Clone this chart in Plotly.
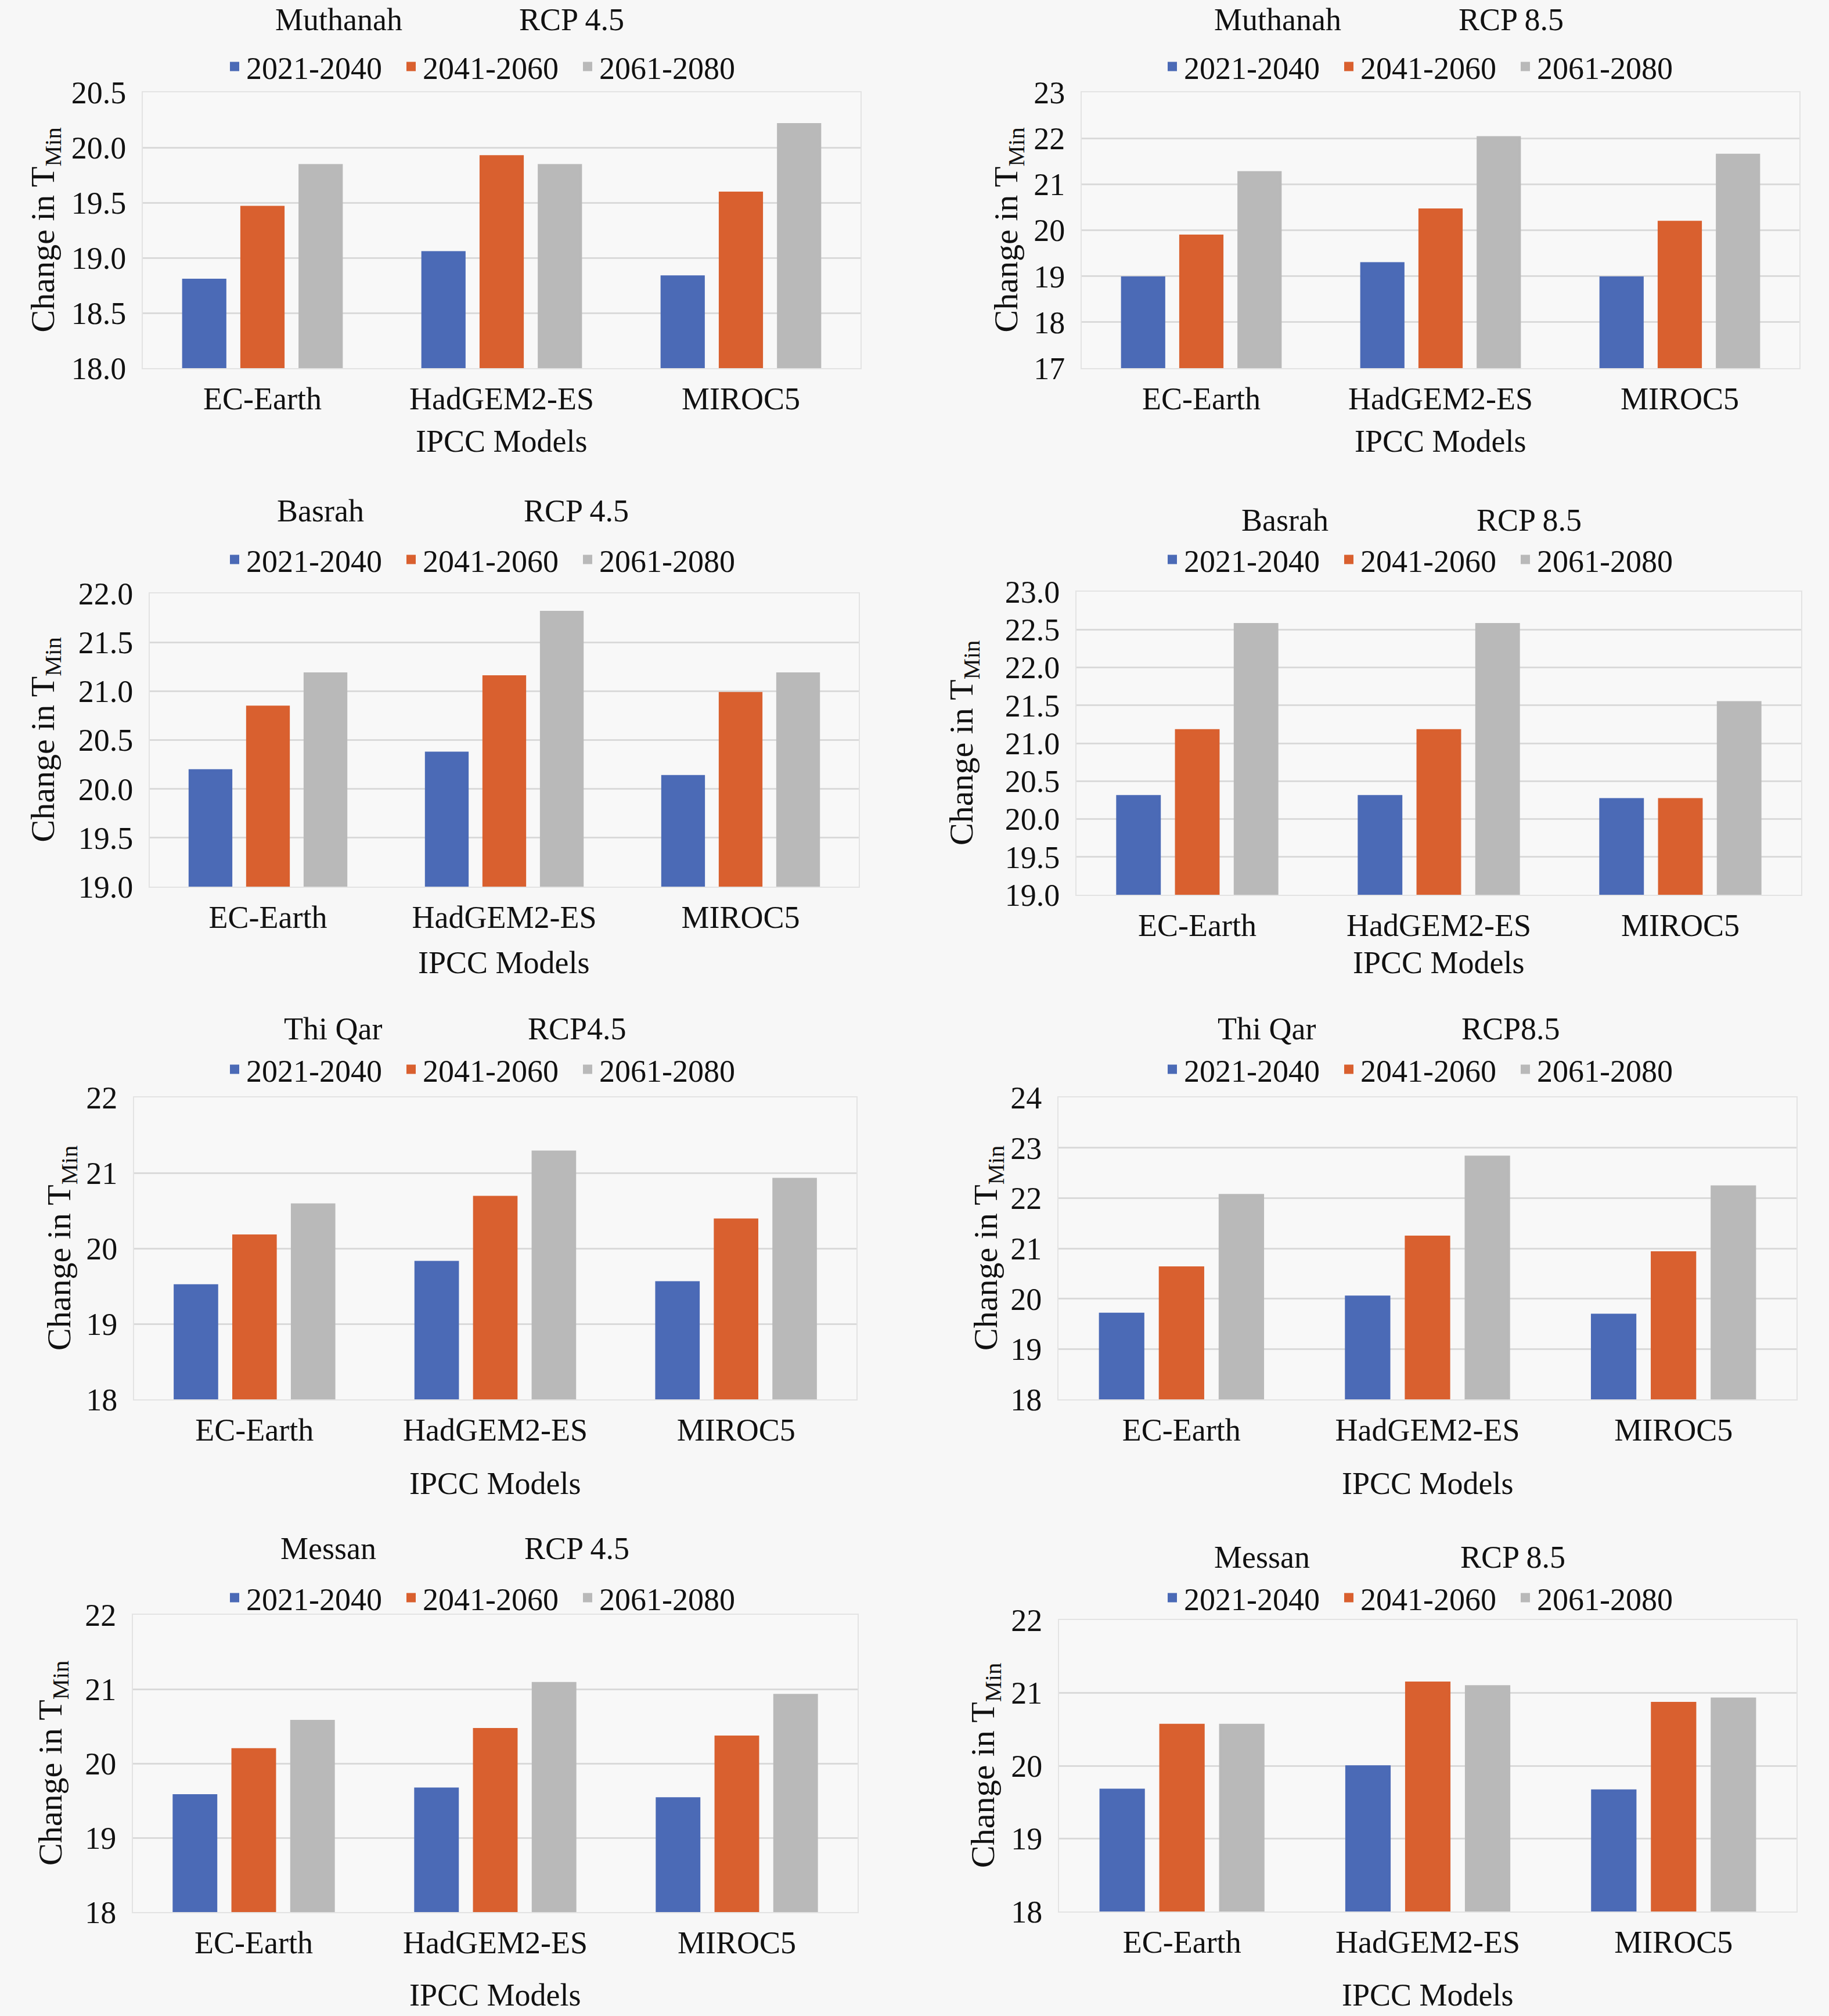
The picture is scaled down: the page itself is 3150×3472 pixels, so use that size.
import plotly.graph_objects as go

W, H = 3150, 3472

models = ["EC-Earth", "HadGEM2-ES", "MIROC5"]
periods = ["2021-2040", "2041-2060", "2061-2080"]
colors = ["#4b6ab6", "#d9602f", "#b9b9b9"]

# values per period: [EC-Earth, HadGEM2-ES, MIROC5]
muthanah_45_p1 = [18.80, 19.05, 18.83]
muthanah_45_p2 = [19.46, 19.92, 19.59]
muthanah_45_p3 = [19.84, 19.84, 20.21]

muthanah_85_p1 = [18.97, 19.28, 18.97]
muthanah_85_p2 = [19.88, 20.45, 20.18]
muthanah_85_p3 = [21.26, 22.02, 21.64]

basrah_45_p1 = [20.19, 20.37, 20.13]
basrah_45_p2 = [20.84, 21.15, 20.98]
basrah_45_p3 = [21.18, 21.81, 21.18]

basrah_85_p1 = [20.30, 20.30, 20.26]
basrah_85_p2 = [21.17, 21.17, 20.26]
basrah_85_p3 = [22.57, 22.57, 21.54]

thiqar_45_p1 = [19.51, 19.82, 19.55]
thiqar_45_p2 = [20.17, 20.68, 20.38]
thiqar_45_p3 = [20.58, 21.28, 20.92]

thiqar_85_p1 = [19.70, 20.04, 19.68]
thiqar_85_p2 = [20.62, 21.23, 20.92]
thiqar_85_p3 = [22.06, 22.82, 22.23]

messan_45_p1 = [19.57, 19.66, 19.53]
messan_45_p2 = [20.19, 20.46, 20.36]
messan_45_p3 = [20.57, 21.08, 20.92]

messan_85_p1 = [19.67, 19.99, 19.66]
messan_85_p2 = [20.56, 21.14, 20.86]
messan_85_p3 = [20.56, 21.09, 20.92]

# panel layout in pixels
panels = [
    dict(vals=[muthanah_45_p1, muthanah_45_p2, muthanah_45_p3], rng=(18, 20.5), dt=0.5, fmt=".1f",
         box=(246, 1482, 159, 634), ty=34, titles=[("Muthanah", 583), ("RCP 4.5", 984)],
         ly=115, lx=392, ytx=77, xly=760),
    dict(vals=[muthanah_85_p1, muthanah_85_p2, muthanah_85_p3], rng=(17, 23), dt=1, fmt="d",
         box=(1863, 3099, 159, 634), ty=34, titles=[("Muthanah", 2200), ("RCP 8.5", 2602)],
         ly=115, lx=2007, ytx=1736, xly=760),
    dict(vals=[basrah_45_p1, basrah_45_p2, basrah_45_p3], rng=(19, 22), dt=0.5, fmt=".1f",
         box=(258, 1479, 1022, 1527), ty=880, titles=[("Basrah", 552), ("RCP 4.5", 992)],
         ly=964, lx=392, ytx=77, xly=1658),
    dict(vals=[basrah_85_p1, basrah_85_p2, basrah_85_p3], rng=(19, 23), dt=0.5, fmt=".1f",
         box=(1854, 3102, 1019, 1541), ty=896, titles=[("Basrah", 2213), ("RCP 8.5", 2633)],
         ly=964, lx=2007, ytx=1660, xly=1658),
    dict(vals=[thiqar_45_p1, thiqar_45_p2, thiqar_45_p3], rng=(18, 22), dt=1, fmt="d",
         box=(231, 1475, 1890, 2410), ty=1772, titles=[("Thi Qar", 573), ("RCP4.5", 994)],
         ly=1842, lx=392, ytx=105, xly=2555),
    dict(vals=[thiqar_85_p1, thiqar_85_p2, thiqar_85_p3], rng=(18, 24), dt=1, fmt="d",
         box=(1823, 3094, 1890, 2410), ty=1772, titles=[("Thi Qar", 2181), ("RCP8.5", 2602)],
         ly=1842, lx=2007, ytx=1701, xly=2555),
    dict(vals=[messan_45_p1, messan_45_p2, messan_45_p3], rng=(18, 22), dt=1, fmt="d",
         box=(229, 1477, 2781, 3293), ty=2667, titles=[("Messan", 565), ("RCP 4.5", 994)],
         ly=2752, lx=392, ytx=90, xly=3436),
    dict(vals=[messan_85_p1, messan_85_p2, messan_85_p3], rng=(18, 22), dt=1, fmt="d",
         box=(1824, 3094, 2790, 3292), ty=2682, titles=[("Messan", 2173), ("RCP 8.5", 2605)],
         ly=2752, lx=2007, ytx=1696, xly=3436),
]

FONT = "Liberation Serif"
FS = 54
TXT = "#111111"
GRID = "#dadada"


def fx(x):
    return x / W


def fy(y):
    return 1 - y / H


fig = go.Figure()
annotations = []
layout_extra = {}

for i, p in enumerate(panels):
    n = i + 1
    sfx = "" if n == 1 else str(n)
    xa, ya = "x" + sfx, "y" + sfx
    lg = "legend" + sfx
    for k in range(3):
        fig.add_trace(go.Bar(
            x=models, y=p["vals"][k], name=periods[k],
            marker=dict(color=colors[k], line=dict(width=4, color=colors[k])),
            xaxis=xa, yaxis=ya, legend=lg, showlegend=True,
        ))
    x0, x1, y0, y1 = p["box"]
    layout_extra["xaxis" + sfx] = dict(
        domain=[fx(x0), fx(x1)], anchor=ya, showgrid=False, zeroline=False,
        showline=True, mirror=True, linecolor="#e3e3e3", linewidth=2,
        ticks="", ticklabelstandoff=4, automargin=False,
        tickfont=dict(family=FONT, size=FS, color=TXT),
    )
    layout_extra["yaxis" + sfx] = dict(
        domain=[fy(y1), fy(y0)], anchor=xa, range=list(p["rng"]), dtick=p["dt"],
        tick0=p["rng"][0], tickformat=p["fmt"], showgrid=True, gridcolor=GRID, gridwidth=3,
        zeroline=False, showline=True, mirror=True, linecolor="#e3e3e3", linewidth=2,
        ticks="", ticklabelstandoff=16, automargin=False,
        tickfont=dict(family=FONT, size=FS, color=TXT),
    )
    layout_extra[lg] = dict(
        orientation="h", x=fx(p["lx"] - 8), xanchor="left", y=fy(p["ly"]), yanchor="middle",
        font=dict(family=FONT, size=FS, color=TXT), bgcolor="rgba(0,0,0,0)",
        traceorder="normal", itemwidth=30, entrywidth=259, entrywidthmode="pixels",
    )
    for t, tx in p["titles"]:
        annotations.append(dict(
            text=t, x=fx(tx), y=fy(p["ty"]), xref="paper", yref="paper",
            xanchor="center", yanchor="middle", showarrow=False,
            font=dict(family=FONT, size=FS, color=TXT),
        ))
    annotations.append(dict(
        text="IPCC Models", x=fx((x0 + x1) / 2), y=fy(p["xly"]), xref="paper", yref="paper",
        xanchor="center", yanchor="middle", showarrow=False,
        font=dict(family=FONT, size=FS, color=TXT),
    ))
    annotations.append(dict(
        text="Change in T<sub>Min</sub>", x=fx(p["ytx"]), y=fy((y0 + y1) / 2),
        xref="paper", yref="paper", xanchor="center", yanchor="middle", showarrow=False,
        textangle=-90, font=dict(family=FONT, size=58, color=TXT),
    ))

fig.update_layout(
    width=W, height=H, margin=dict(l=0, r=0, t=0, b=0, pad=0, autoexpand=False),
    paper_bgcolor="#f7f7f7", plot_bgcolor="#f8f8f8",
    barmode="group", bargap=0.27, bargroupgap=0.28,
    annotations=annotations, font=dict(family=FONT, size=FS, color=TXT),
    **layout_extra,
)

fig.write_html("out.html", config={"displayModeBar": False},
               post_script="document.body.style.margin='0';")
